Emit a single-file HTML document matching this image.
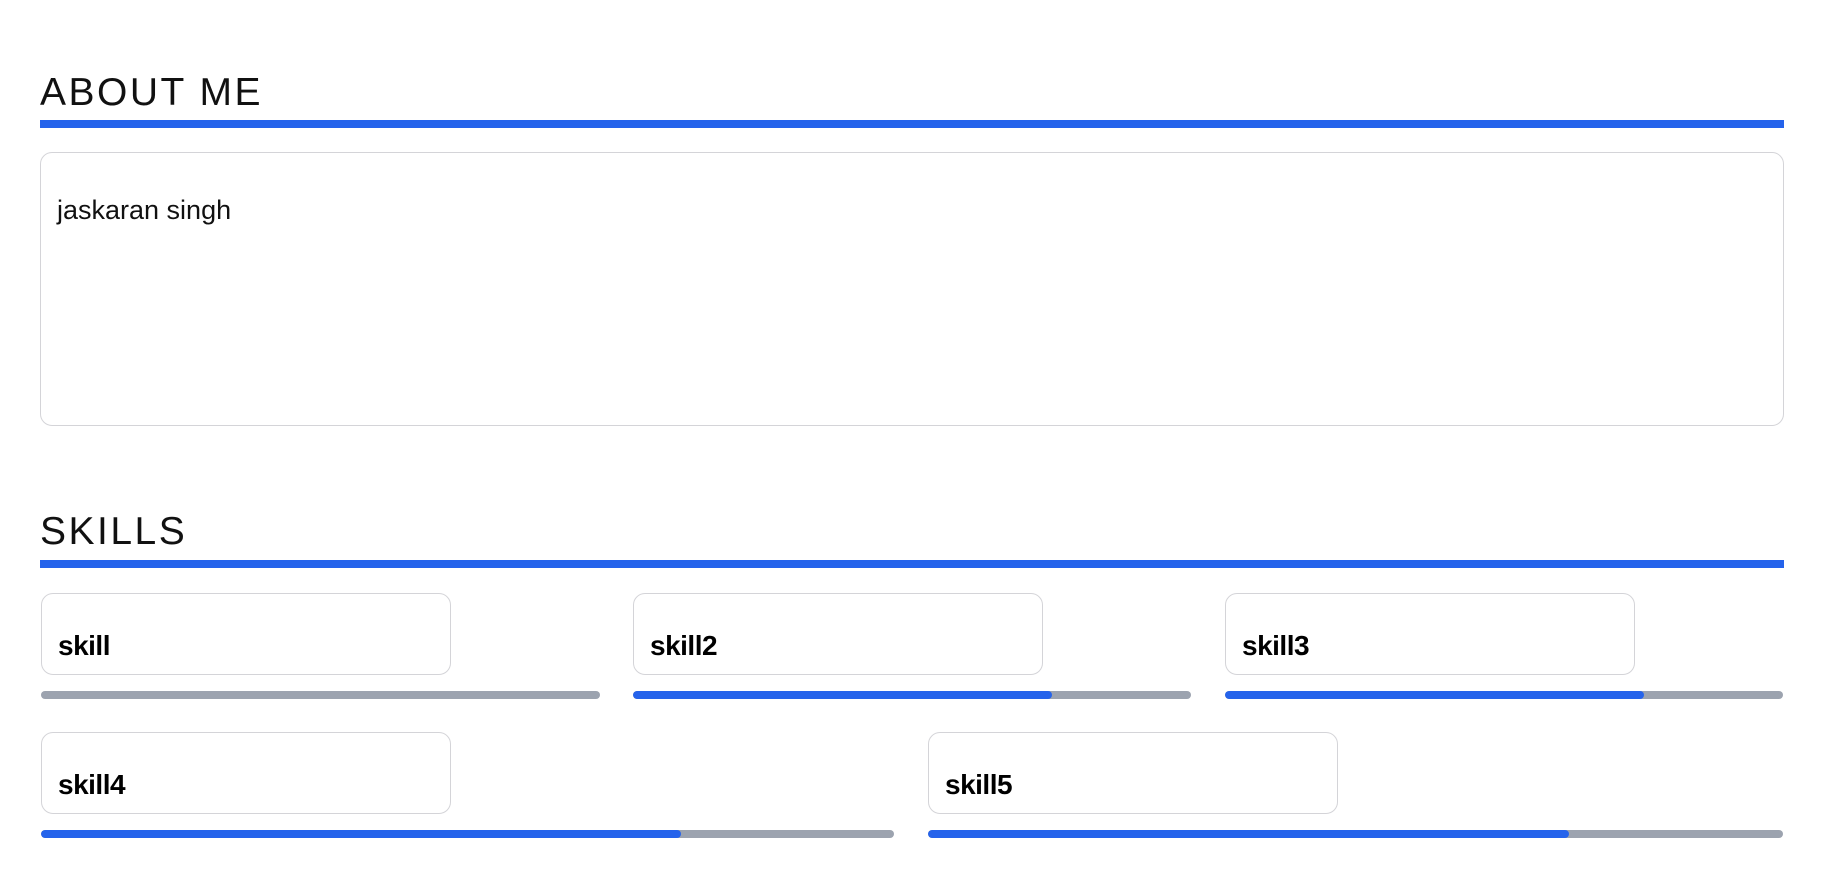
<!DOCTYPE html>
<html><head><meta charset="utf-8"><style>
body{margin:0;width:1824px;height:878px;background:#fff;font-family:"Liberation Sans",sans-serif;position:relative;overflow:hidden}
.h{position:absolute;left:40px;font-size:39px;letter-spacing:2.5px;color:#111;font-weight:normal;line-height:1}
.rule{position:absolute;left:40px;width:1744px;height:8px;background:#2563eb}
.ta{position:absolute;left:40px;top:152px;width:1744px;height:274px;border:1.5px solid #d4d4d8;border-radius:12px;box-sizing:border-box}
.box{position:absolute;width:410px;height:82px;border:1.5px solid #d4d4d8;border-radius:12px;box-sizing:border-box;font-weight:bold;font-size:28px;color:#000}
.box span{position:absolute;left:16px;top:36px;letter-spacing:-0.5px}
.track{position:absolute;height:8px;background:#9ca3af;border-radius:4px;overflow:hidden}
.fill{height:100%;background:#2563eb;border-radius:4px}
</style></head><body>
<div class="h" style="top:73px">ABOUT ME</div>
<div class="rule" style="top:120px"></div>
<div class="ta"><span style="position:absolute;left:16px;top:42px;font-size:27px;color:#111">jaskaran singh</span></div>
<div class="h" style="top:512px">SKILLS</div>
<div class="rule" style="top:560px"></div>
<div id="skills"></div>
<script>
const skillNames=["skill","skill2","skill3","skill4","skill5"];
const skillValues=[0,75,75,75,75];
const layout=[[41,593,559],[633,593,558],[1225,593,558],[41,732,853],[928,732,855]];
const root=document.getElementById('skills');
skillNames.forEach((n,i)=>{
  const [x,y,w]=layout[i];
  const b=document.createElement('div');
  b.className='box';
  b.style.left=x+'px';b.style.top=y+'px';
  
  
  const s=document.createElement('span');s.textContent=n;b.appendChild(s);
  root.appendChild(b);
  const t=document.createElement('div');
  t.className='track';
  t.style.left=x+'px';t.style.top=(y+98)+'px';t.style.width=w+'px';
  
  
  const f=document.createElement('div');
  f.className='fill';
  f.style.width=skillValues[i]+'%';
  
  
  t.appendChild(f);
  root.appendChild(t);
});
</script>
</body></html>
